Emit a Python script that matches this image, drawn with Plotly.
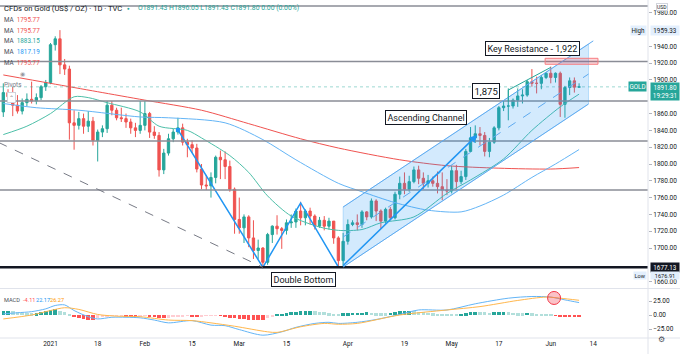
import numpy as np
import pandas as pd
import plotly.graph_objects as go

HOLIDAYS = ["2020-12-25", "2021-01-01"]
dates = [d.strftime("%Y-%m-%d") for d in pd.bdate_range("2020-12-17", "2021-06-09")
         if d.strftime("%Y-%m-%d") not in HOLIDAYS]

opens = [1862, 1885, 1880, 1870, 1863, 1873, 1877, 1875, 1879, 1892,
         1897, 1942, 1949, 1918, 1913, 1849, 1846, 1854, 1845, 1851, 1828, 1838, 1842, 1870, 1864, 1855, 1854, 1850, 1843, 1840,
         1846, 1860, 1838, 1834, 1793, 1813, 1830, 1838, 1843, 1826, 1823, 1819, 1794, 1775, 1774, 1784, 1808, 1805, 1797, 1770,
         1734, 1724, 1737, 1712, 1697, 1700, 1683, 1716, 1726, 1723, 1721, 1730, 1731, 1744, 1736, 1744, 1738, 1726, 1733, 1726, 1732, 1712, 1685,
         1708, 1728, 1730, 1728, 1743, 1737, 1756, 1744, 1732, 1746, 1736, 1764, 1777, 1770, 1779, 1793, 1783, 1777, 1780, 1777, 1773, 1769,
         1768, 1792, 1779, 1785, 1815, 1831, 1836, 1834, 1815, 1826, 1843, 1867, 1869, 1869, 1876, 1881, 1882, 1898, 1896, 1896, 1903,
         1908, 1903, 1908, 1871, 1891, 1899, 1891.43]
highs = [1896, 1889, 1892, 1882, 1878, 1884, 1898, 1884, 1894, 1900,
         1944, 1952, 1959.33, 1925, 1917, 1864, 1862, 1860, 1863, 1856, 1841, 1846, 1875, 1875, 1867, 1867, 1860, 1854, 1849, 1875,
         1875, 1862, 1845, 1838, 1818, 1836, 1842, 1855, 1848, 1830, 1828, 1824, 1800, 1787, 1790, 1810, 1816, 1815, 1804, 1772,
         1760, 1740, 1739, 1733, 1710, 1701, 1718, 1727, 1739, 1725, 1734, 1740, 1747, 1755, 1746, 1748, 1740, 1737, 1738, 1736, 1732, 1714, 1718,
         1734, 1733, 1740, 1745, 1744, 1759, 1758, 1746, 1748, 1749, 1767, 1785, 1790, 1786, 1797, 1798, 1790, 1787, 1785, 1791, 1790, 1782,
         1798, 1799, 1792, 1818, 1844, 1846, 1844, 1838, 1831, 1845, 1869, 1875, 1890, 1878, 1890, 1889, 1900, 1913, 1904, 1906, 1909,
         1916, 1909, 1910, 1893, 1903, 1903, 1896.05]
lows = [1856, 1873, 1857, 1860, 1859, 1869, 1872, 1871, 1876, 1887,
        1895, 1935, 1907, 1906, 1829, 1817, 1841, 1836, 1838, 1822, 1803, 1832, 1837, 1858, 1852, 1850, 1843, 1836, 1832, 1836,
        1840, 1831, 1830, 1785, 1788, 1810, 1826, 1835, 1822, 1808, 1813, 1790, 1770, 1769, 1760, 1777, 1782, 1782, 1767, 1717,
        1717, 1706, 1701, 1687, 1687, 1676.91, 1680, 1706, 1716, 1699, 1716, 1724, 1724, 1727, 1727, 1728, 1722, 1724, 1721, 1722, 1705, 1677.5, 1677.13,
        1704, 1726, 1721, 1724, 1733, 1735, 1732, 1723, 1729, 1733, 1734, 1758, 1764, 1767, 1777, 1776, 1770, 1772, 1773, 1765, 1757, 1763,
        1765, 1770, 1776, 1781, 1814, 1825, 1822, 1809, 1808, 1824, 1840, 1863, 1852, 1866, 1868, 1872, 1880, 1892, 1884, 1889, 1901,
        1896, 1897, 1856, 1855, 1882, 1885, 1891.43]
closes = [1885, 1880, 1870, 1863, 1873, 1877, 1875, 1879, 1892, 1897,
          1942, 1949, 1918, 1913, 1849, 1846, 1854, 1845, 1851, 1828, 1838, 1842, 1870, 1864, 1855, 1854, 1850, 1843, 1840, 1846,
          1860, 1838, 1834, 1793, 1813, 1830, 1838, 1843, 1826, 1823, 1819, 1794, 1775, 1774, 1784, 1808, 1805, 1797, 1770, 1734,
          1724, 1737, 1712, 1697, 1700, 1683, 1716, 1726, 1723, 1721, 1730, 1731, 1744, 1736, 1744, 1738, 1726, 1733, 1726, 1732, 1712, 1685, 1708,
          1728, 1730, 1728, 1743, 1737, 1756, 1744, 1732, 1746, 1736, 1764, 1777, 1770, 1779, 1793, 1783, 1777, 1780, 1777, 1773, 1769, 1768,
          1792, 1779, 1785, 1815, 1831, 1836, 1834, 1815, 1826, 1843, 1867, 1869, 1869, 1876, 1881, 1882, 1898, 1896, 1896, 1903, 1908,
          1903, 1908, 1871, 1891, 1899, 1891.43, 1891.80]

# moving averages (date, value)
ma_red_dates = ["2020-12-17", "2021-01-04", "2021-01-18", "2021-02-01", "2021-02-17", "2021-03-03", "2021-03-18",
                "2021-03-30", "2021-04-16", "2021-04-30", "2021-05-17", "2021-06-01", "2021-06-09"]
ma_red_vals = [1906, 1896, 1886, 1876, 1864, 1848, 1830, 1819, 1805, 1798, 1795, 1794, 1795.77]
ma_teal_dates = ["2020-12-17", "2020-12-24", "2021-01-04", "2021-01-11", "2021-01-14", "2021-01-20", "2021-01-29",
                 "2021-02-04", "2021-02-12", "2021-02-17", "2021-02-25", "2021-03-03", "2021-03-09", "2021-03-16",
                 "2021-03-24", "2021-03-30", "2021-04-06", "2021-04-12", "2021-04-21", "2021-04-30", "2021-05-07",
                 "2021-05-18", "2021-05-26", "2021-06-03", "2021-06-09"]
ma_teal_vals = [1835, 1845, 1860, 1880, 1879, 1873, 1862, 1845, 1840, 1831, 1810, 1790, 1762, 1738,
                1725, 1721, 1722, 1730, 1737, 1765, 1781, 1806, 1840, 1868, 1883.15]
ma_blue_dates = ["2020-12-17", "2020-12-29", "2021-01-12", "2021-01-29", "2021-02-08", "2021-02-24", "2021-03-08",
                 "2021-03-17", "2021-03-30", "2021-04-06", "2021-04-15", "2021-04-26", "2021-05-05", "2021-05-11",
                 "2021-05-18", "2021-05-26", "2021-06-02", "2021-06-09"]
ma_blue_vals = [1872, 1867, 1864, 1856, 1855, 1849, 1829, 1805, 1777, 1767, 1754, 1745, 1743, 1750,
                1763, 1784, 1800, 1817.19]

# MACD (12, 26, 9)
macd_dates = ["2020-12-17", "2020-12-22", "2020-12-28", "2020-12-31", "2021-01-05", "2021-01-07", "2021-01-11",
              "2021-01-14", "2021-01-18", "2021-01-21", "2021-01-26", "2021-01-29", "2021-02-03", "2021-02-08",
              "2021-02-15", "2021-02-19", "2021-02-24", "2021-03-01", "2021-03-08", "2021-03-12", "2021-03-17",
              "2021-03-23", "2021-03-26", "2021-03-30", "2021-04-05", "2021-04-09", "2021-04-16", "2021-04-22",
              "2021-04-30", "2021-05-10", "2021-05-19", "2021-05-26", "2021-06-01", "2021-06-04", "2021-06-09"]
macd_vals = [2, 4, 6, 11, 17, 18, 8, -3, -7, -4, -4, -5, -9, -14, -10, -18, -19, -26, -36, -30, -22,
             -15, -13, -15, -13, -8, 1, 9, 9, 20, 30, 33, 32, 27, 22.17]
signal_dates = ["2020-12-17", "2020-12-28", "2021-01-04", "2021-01-07", "2021-01-12", "2021-01-18", "2021-01-22",
                "2021-01-29", "2021-02-08", "2021-02-15", "2021-02-19", "2021-02-26", "2021-03-09", "2021-03-11",
                "2021-03-18", "2021-03-25", "2021-03-30", "2021-04-05", "2021-04-16", "2021-04-30", "2021-05-11",
                "2021-05-21", "2021-05-31", "2021-06-03", "2021-06-09"]
signal_vals = [-7, 0, 8, 13, 10, 1, -2, -3, -9, -10, -14, -20, -30, -31, -21, -15, -16.5, -15, 0, 9, 15,
               26, 32, 30, 26.27]
hist_vals = [7, 7.5, 6.5, 5, 4, 3.5, 3, 3.5, 5, 6.5,
             9, 10.5, 8, 5, 2, -3, -6, -7.5, -8, -8.5,
             -5, -3, -2, -1.5, -1, -0.8, -2, -3, -3.2, -2.5,
             -1.5, -3, -4, -5.5, -6, -5, -4, -3, -2, -1.5,
             -2, -2.5, -2, -1.5, -1, -0.5, -1.5, -3, -4.5, -5.5,
             -6.5, -7.5, -8, -8.5, -8.8, -9, -6, -3, 0.5, 2,
             3.5, 4.5, 5.5, 6.5, 7, 7.5, 7, 6, 4.5, 3,
             2.2, 2, 2.8, 3.3, 3.8, 4, 4.3, 4.5, 4, 3.5,
             3.2, 3, 3.8, 5, 6.5, 7.5, 8, 7, 6, 5,
             4, 3, 2, 1.5, 1, 0.8, 0.5, 1.5, 3, 4.5,
             5.5, 5, 4.5, 4, 4.5, 5.5, 6, 5, 4, 3.5,
             3, 3.6, 3, 2, 1.2, 0.6, 0.2, -1.5, -3, -3.5,
             -4, -4.1, -4.11]

tick_dates = ["2021-01-04", "2021-01-18", "2021-02-01", "2021-02-15", "2021-03-01", "2021-03-15",
              "2021-04-01", "2021-04-19", "2021-05-03", "2021-05-17", "2021-06-01", "2021-06-14"]
tick_labels = ["2021", "18", "Feb", "15", "Mar", "15", "Apr", "19", "May", "17", "Jun", "14"]
# price-scale labels that stay visible (the others sit under the price tags)
price_ticks = [1660, 1700, 1720, 1740, 1760, 1780, 1800, 1820, 1840, 1860, 1900, 1920, 1940, 1980]

# horizontal levels and drawings (price units)
levels = [1988, 1922, 1875, 1827.4, 1769]
support = 1677.13
last_price = 1891.80
zigzag_dates = ["2021-02-10", "2021-03-08", "2021-03-18", "2021-03-30"]
zigzag_prices = [1840.5, 1677, 1753.6, 1677.4]
arrow_from = ("2021-03-31", 1677.4)
arrow_to = ("2021-05-10", 1834.5)
dash_trend = (("2020-12-17", 1823), ("2021-03-08", 1677))
channel_dates = ("2021-03-31", "2021-06-11")
channel_upper = (1748.8, 1942.8)
channel_lower = (1677.4, 1871.4)
resist_box = (("2021-05-31", 1918.7), ("2021-06-15", 1925.8))
bracket = (("2021-05-19", 1874), ("2021-05-19", 1888), ("2021-06-01", 1915))


def pos(d):
    return int(np.busday_count("2021-01-04", d, holidays=HOLIDAYS))


assert len(dates) == len(opens) == len(highs) == len(lows) == len(closes) == len(hist_vals)
xi = [pos(d) for d in dates]

UP, DN = "#26a69a", "#ef5350"
FONT = "Roboto, Arial, sans-serif"
W, H = 648.0, 338.0
XR = [-10.7, 126.6]

fig = go.Figure()

for dd, vv, col in [(ma_red_dates, ma_red_vals, "#f05350"), (ma_blue_dates, ma_blue_vals, "#64b5f6"),
                    (ma_teal_dates, ma_teal_vals, "#4dbfa8")]:
    fig.add_trace(go.Scatter(x=[pos(d) for d in dd], y=vv, mode="lines", xaxis="x", yaxis="y",
                             line=dict(color=col, width=1, shape="spline", smoothing=0.8),
                             hoverinfo="skip", showlegend=False))

fig.add_trace(go.Candlestick(x=xi, open=opens, high=highs, low=lows, close=closes,
                             xaxis="x", yaxis="y", whiskerwidth=0,
                             increasing=dict(line=dict(color=UP, width=1), fillcolor=UP),
                             decreasing=dict(line=dict(color=DN, width=1), fillcolor=DN),
                             showlegend=False, hoverinfo="skip"))

# zigzag
fig.add_trace(go.Scatter(x=[pos(d) for d in zigzag_dates], y=zigzag_prices, mode="lines",
                         xaxis="x", yaxis="y", line=dict(color="#2196f3", width=1.5),
                         showlegend=False, hoverinfo="skip"))
fig.add_trace(go.Scatter(x=[pos(zigzag_dates[0])], y=[zigzag_prices[0]], mode="markers",
                         xaxis="x", yaxis="y", marker=dict(symbol="square", size=4, color="#2196f3"),
                         showlegend=False, hoverinfo="skip"))

# MACD
hcols = []
for k, h in enumerate(hist_vals):
    prev = hist_vals[k - 1] if k > 0 else h - 1
    if h >= 0:
        hcols.append("#26a69a" if h > prev else "#b2dfdb")
    else:
        hcols.append("#ff5252" if h < prev else "#ffcdd2")
fig.add_trace(go.Bar(x=xi, y=hist_vals, marker=dict(color=hcols, line=dict(width=0)), width=0.75,
                     xaxis="x2", yaxis="y2", showlegend=False, hoverinfo="skip"))
fig.add_trace(go.Scatter(x=[pos(d) for d in macd_dates], y=macd_vals, mode="lines", xaxis="x2", yaxis="y2",
                         line=dict(color="#64b5f6", width=1, shape="spline", smoothing=0.8),
                         showlegend=False, hoverinfo="skip"))
fig.add_trace(go.Scatter(x=[pos(d) for d in signal_dates], y=signal_vals, mode="lines", xaxis="x2", yaxis="y2",
                         line=dict(color="#ffb74d", width=1, shape="spline", smoothing=0.8),
                         showlegend=False, hoverinfo="skip"))

shapes = []
for lv in levels:
    shapes.append(dict(type="line", xref="x domain", yref="y", x0=0, x1=1, y0=lv, y1=lv,
                       line=dict(color="#8a8d96", width=1.5)))
shapes.append(dict(type="line", xref="x domain", yref="y", x0=0, x1=1, y0=support, y1=support,
                   line=dict(color="#131722", width=2.5)))
shapes.append(dict(type="line", xref="x domain", yref="y", x0=0, x1=1, y0=last_price, y1=last_price,
                   line=dict(color="rgba(38,166,154,0.45)", width=1, dash="dot")))
(d0, p0), (d1, p1) = dash_trend
shapes.append(dict(type="line", xref="x", yref="y", x0=pos(d0) - 1, x1=pos(d1),
                   y0=p0 + (p0 - p1) / (pos(d1) - pos(d0)), y1=p1,
                   line=dict(color="#787b86", width=1, dash="dash")))
# channel
c0, c1 = pos(channel_dates[0]), pos(channel_dates[1])
shapes.append(dict(type="path", xref="x", yref="y",
                   path=f"M {c0},{channel_lower[0]} L {c0},{channel_upper[0]} L {c1},{channel_upper[1]} L {c1},{channel_lower[1]} Z",
                   fillcolor="rgba(33,150,243,0.2)", line=dict(color="rgba(33,150,243,0.25)", width=1)))
slope = (channel_upper[1] - channel_upper[0]) / (c1 - c0)
shapes.append(dict(type="line", xref="x", yref="y", x0=c0, x1=c1 + 1, y0=channel_upper[0],
                   y1=channel_upper[1] + slope, line=dict(color="#5eaaf0", width=1)))
shapes.append(dict(type="line", xref="x", yref="y", x0=c0, x1=c1, y0=channel_lower[0],
                   y1=channel_lower[1], line=dict(color="#5eaaf0", width=1)))
shapes.append(dict(type="line", xref="x", yref="y", x0=c0, x1=c1,
                   y0=(channel_lower[0] + channel_upper[0]) / 2, y1=(channel_lower[1] + channel_upper[1]) / 2,
                   line=dict(color="#5eaaf0", width=1, dash="dash")))
(r0d, r0p), (r1d, r1p) = resist_box
shapes.append(dict(type="rect", xref="x", yref="y", x0=pos(r0d) - 0.2, x1=pos(r1d), y0=r0p, y1=r1p,
                   fillcolor="rgba(242,54,69,0.2)", line=dict(color="#f77c80", width=1)))
(b0d, b0p), (b1d, b1p), (b2d, b2p) = bracket
shapes.append(dict(type="path", xref="x", yref="y",
                   path=f"M {pos(b0d)},{b0p} L {pos(b1d)},{b1p} L {pos(b2d)},{b2p}",
                   line=dict(color="#26a69a", width=1)))
# MACD cross marker
shapes.append(dict(type="circle", xref="x2", yref="y2", xsizemode="pixel", ysizemode="pixel",
                   xanchor=106.7, yanchor=30.4, x0=-6.5, x1=6.5, y0=-6.5, y1=6.5,
                   fillcolor="rgba(242,54,69,0.3)", line=dict(color="#f23645", width=1)))
# pane separators
shapes.append(dict(type="line", xref="paper", yref="paper", x0=0, x1=680 / W, y0=1 - 288.5 / H, y1=1 - 288.5 / H,
                   line=dict(color="#e0e3eb", width=1)))
shapes.append(dict(type="line", xref="paper", yref="paper", x0=0, x1=680 / W, y0=0, y1=0,
                   line=dict(color="#e0e3eb", width=1)))
shapes.append(dict(type="line", xref="paper", yref="paper", x0=1, x1=1, y0=-16 / H, y1=1,
                   line=dict(color="#e0e3eb", width=1)))

ann = []


def box(text, x, y, size=9):
    ann.append(dict(text=text, x=x, y=y, xref="x", yref="y", showarrow=False,
                    font=dict(size=size, color="#131722", family=FONT), bgcolor="white",
                    bordercolor="#131722", borderwidth=1, borderpad=1.5))


box("Key Resistance - 1,922", 102.2, 1938)
box("1,875", 92.3, 1887, 9.5)
box("Ascending Channel", 79.6, 1854.8)
box("Double Bottom", 53.5, 1662.5)

ann.append(dict(x=pos(arrow_to[0]) + 0.4, y=arrow_to[1], ax=pos(arrow_from[0]) - 0.3, ay=arrow_from[1],
                xref="x", yref="y", axref="x", ayref="y", showarrow=True, arrowhead=2, arrowsize=1,
                arrowwidth=1.5, arrowcolor="#2196f3", text=""))


def ptxt(text, px, py, size=6.5, color="#131722", **kw):
    d = dict(text=text, x=px / W, y=1 - py / H, xref="paper", yref="paper", showarrow=False,
             xanchor="left", yanchor="middle", font=dict(size=size, color=color, family=FONT))
    d.update(kw)
    ann.append(d)


ptxt("CFDs on Gold (US$ / OZ) · 1D · TVC", 2, 8, 7.6)
ptxt("●", 124.5, 8, 4.5, "#26a69a")
ptxt("O1891.43 H1896.05 L1891.43 C1891.80 0.00 (0.00%)", 136, 8, 6.8, "#26a69a")
ma_legend = [("1795.77", "#f05350"), ("1795.77", "#f05350"), ("1883.15", "#26a69a"),
             ("1817.19", "#2196f3"), ("1795.77", "#f05350")]
for k, (v, c) in enumerate(ma_legend):
    ptxt(f"MA  <span style='color:{c}'>{v}</span>", 2, 20 + k * 10.7, 6.3, "#4a4e59")
ptxt("◉", 18, 73, 6, "#9598a1")
ptxt("Pivots", 2, 85, 6.3, "#787b86")
ptxt("⌃", 7, 97.5, 6, "#787b86", bordercolor="#d1d4dc", borderwidth=1, borderpad=1, bgcolor="white")
ptxt("MACD", 2, 299.5, 5.6, "#4a4e59")
ptxt("-4.11", 20.5, 299.5, 5.6, "#ff5252")
ptxt("22.17", 34, 299.5, 5.6, "#2196f3")
ptxt("26.27", 47.5, 299.5, 5.6, "#ff9800")


def axtag(text, py_price, bg, fg, yref="y", px=650, anchor="left", width=None, size=6.3, border=None):
    d = dict(text=text, x=px / W, y=py_price, xref="paper", yref=yref, showarrow=False,
             xanchor=anchor, yanchor="middle", font=dict(size=size, color=fg, family=FONT), bgcolor=bg,
             borderpad=0.5)
    if width:
        d["width"] = width
    if border:
        d["bordercolor"] = border
        d["borderwidth"] = 1
    ann.append(d)


axtag("High", 1959.33, "#e3effd", "#131722", px=647, anchor="right")
axtag("1959.33", 1959.33, "#e3effd", "#131722", width=27)
axtag("GOLD", last_price, "#26a69a", "white", px=647, anchor="right")
axtag("1891.80<br>19:29:31", 1886.3, "#26a69a", "white", width=27)
axtag("1677.13", support, "#131722", "white", width=27)
axtag("Low", 1667.5, "#e3effd", "#131722", px=647, anchor="right", size=5.6)
axtag("1676.91", 1667.5, "#e3effd", "#131722", width=27, size=5.6)
ann.append(dict(text="USD", x=668 / W, y=1 - 3.5 / H, xref="paper", yref="paper", showarrow=False,
                font=dict(size=5, color="#131722", family=FONT), bgcolor="white",
                bordercolor="#d1d4dc", borderwidth=1, borderpad=0))
ann.append(dict(text="⚙", x=667 / W, y=1 - 346 / H, xref="paper", yref="paper", showarrow=False,
                font=dict(size=8, color="#4a4e59", family="DejaVu Sans")))

tick_font = dict(size=6.5, color="#131722", family=FONT)
fig.update_layout(
    width=680, height=354, margin=dict(l=0, r=32, t=0, b=16),
    paper_bgcolor="white", plot_bgcolor="white", showlegend=False,
    font=dict(family=FONT),
    xaxis=dict(domain=[0, 1], range=XR, anchor="y", showticklabels=False, showgrid=False,
               zeroline=False, rangeslider=dict(visible=False), showline=False),
    xaxis2=dict(domain=[0, 1], range=XR, anchor="y2", matches="x", showgrid=False, zeroline=False,
                tickvals=[pos(d) for d in tick_dates], ticktext=tick_labels, ticks="",
                tickfont=tick_font, showline=False),
    yaxis=dict(domain=[1 - 288 / H, 1], range=[1652.4, 1995.2], side="right", anchor="x",
               tickvals=price_ticks, tickformat=".2f", ticks="outside", ticklen=3,
               tickcolor="#b2b5be", tickfont=tick_font, showgrid=False, zeroline=False),
    yaxis2=dict(domain=[0, 1 - 289 / H], range=[-41, 46.4], side="right", anchor="x2",
                tickvals=[-25, 0, 25], tickformat=".2f", ticks="outside", ticklen=3,
                tickcolor="#b2b5be", tickfont=tick_font, showgrid=False, zeroline=False),
    shapes=shapes, annotations=ann, bargap=0,
)

fig.write_html("out.html")
